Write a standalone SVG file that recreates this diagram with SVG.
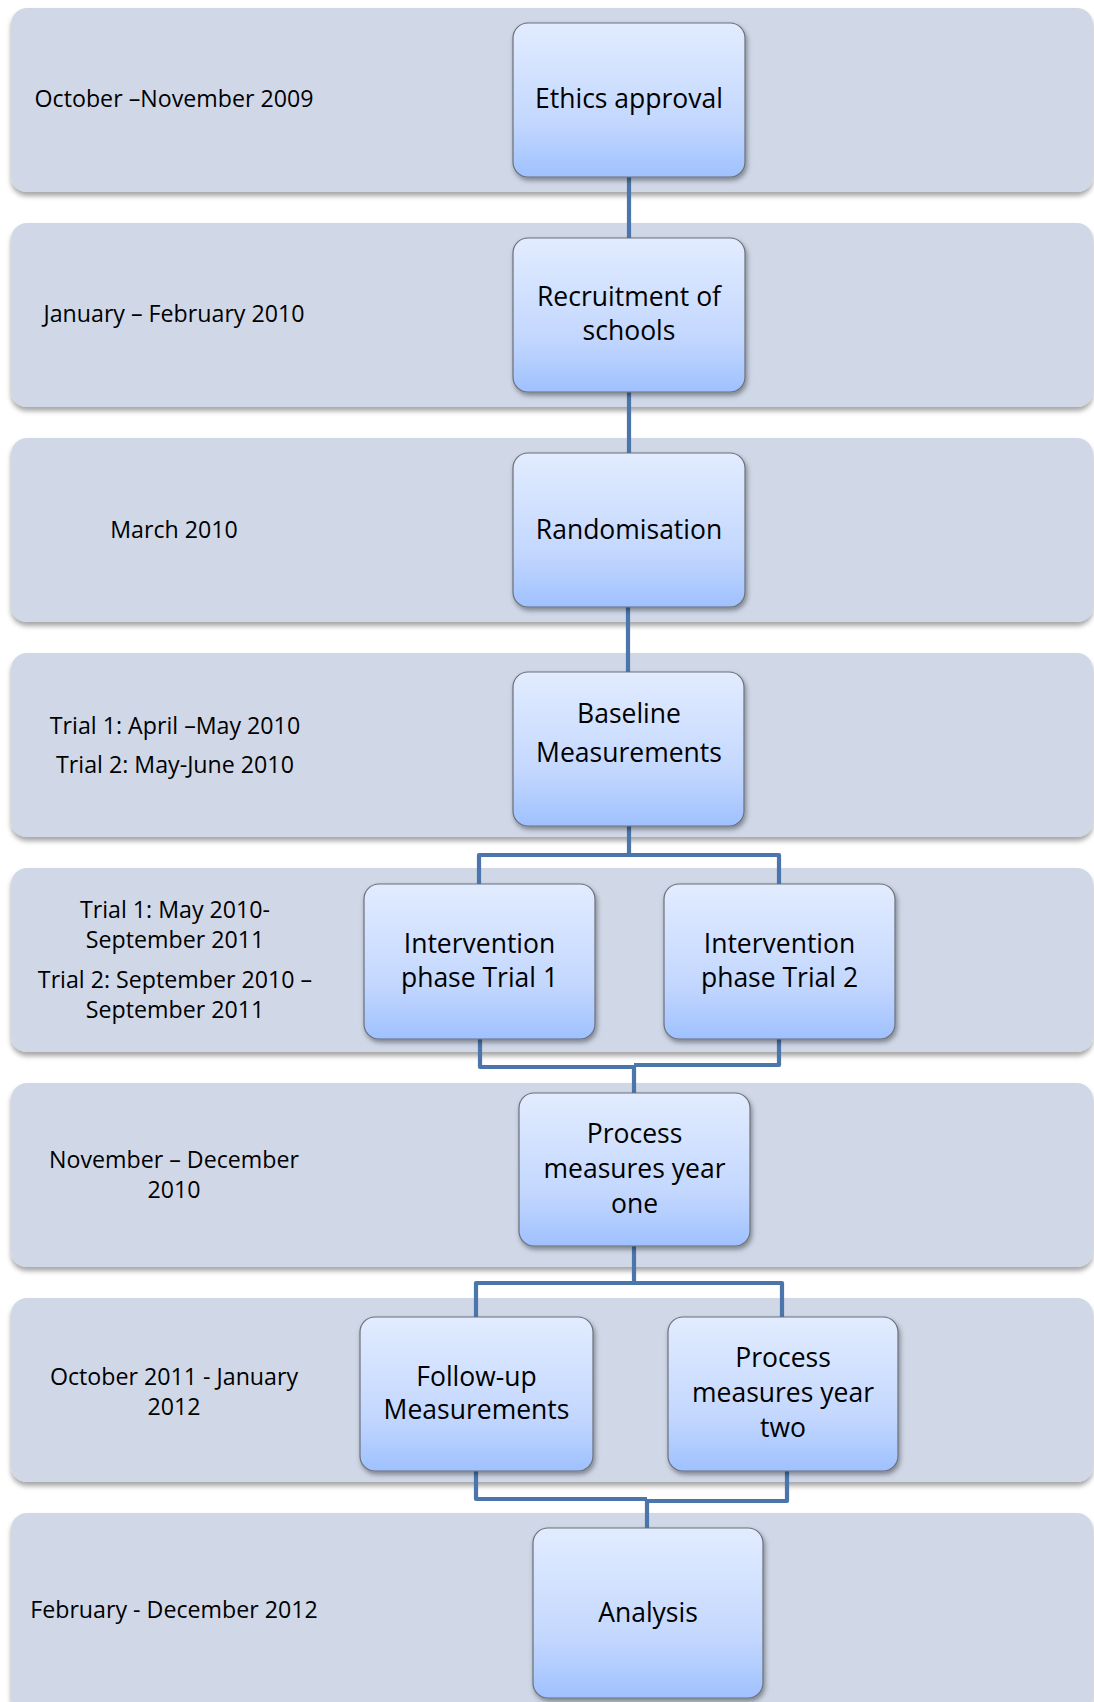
<svg xmlns="http://www.w3.org/2000/svg" width="1094" height="1702" viewBox="0 0 1094 1702">
  <defs>
    <linearGradient id="boxFill" x1="0" y1="0" x2="0" y2="1">
      <stop offset="0" stop-color="#e2ecff"/>
      <stop offset="0.65" stop-color="#c3d7fe"/>
      <stop offset="1" stop-color="#9fc1ff"/>
    </linearGradient>
    <filter id="bandShadow" x="-5%" y="-10%" width="110%" height="125%">
      <feDropShadow dx="0" dy="4" stdDeviation="2.5" flood-color="#000" flood-opacity="0.35"/>
    </filter>
    <filter id="boxShadow" x="-10%" y="-10%" width="125%" height="125%">
      <feDropShadow dx="1.5" dy="3" stdDeviation="2.5" flood-color="#000" flood-opacity="0.4"/>
    </filter>
  </defs>
  <style>
    .band { fill: #d0d8e8; filter: url(#bandShadow); }
    .box { fill: url(#boxFill); stroke: #6b6f78; stroke-width: 1.2; filter: url(#boxShadow); }
    .wire { fill: none; stroke: #4a76ab; stroke-width: 4.2; stroke-linejoin: round; stroke-linecap: butt; }
    text { font-family: "Open Sans", "Liberation Sans", sans-serif; fill: #000; text-anchor: middle; }
    .date { font-size: 23.2px; }
    .label { font-size: 26.5px; }
  </style>

  <!-- timeline bands -->
  <g id="bands">
    <rect class="band" x="11" y="8" width="1082" height="184" rx="16"/>
    <rect class="band" x="11" y="223" width="1082" height="184" rx="16"/>
    <rect class="band" x="11" y="438" width="1082" height="184" rx="16"/>
    <rect class="band" x="11" y="653" width="1082" height="184" rx="16"/>
    <rect class="band" x="11" y="868" width="1082" height="184" rx="16"/>
    <rect class="band" x="11" y="1083" width="1082" height="184" rx="16"/>
    <rect class="band" x="11" y="1298" width="1082" height="184" rx="16"/>
    <rect class="band" x="11" y="1513" width="1082" height="200" rx="16"/>
  </g>

  <!-- period labels -->
  <g id="dates" class="date">
    <text x="174" y="107">October –November 2009</text>
    <text x="174" y="322">January – February 2010</text>
    <text x="174" y="538">March 2010</text>
    <text x="175" y="734">Trial 1: April –May 2010</text>
    <text x="175" y="773">Trial 2: May-June 2010</text>
    <text x="175" y="918">Trial 1: May 2010-</text>
    <text x="175" y="948">September 2011</text>
    <text x="175" y="988">Trial 2: September 2010 –</text>
    <text x="175" y="1018">September 2011</text>
    <text x="174" y="1168">November – December</text>
    <text x="174" y="1198">2010</text>
    <text x="174" y="1385">October 2011 - January</text>
    <text x="174" y="1415">2012</text>
    <text x="174" y="1618">February - December 2012</text>
  </g>

  <!-- connectors -->
  <g id="connectors">
    <path class="wire" d="M629 177 V238"/>
    <path class="wire" d="M629 392 V453"/>
    <path class="wire" d="M628 607 V672"/>
    <path class="wire" d="M629 826 V855 M479 884 V855 H779 V884"/>
    <path class="wire" d="M480 1039 V1067 H634 M779 1039 V1065 H634 M634 1065 V1093"/>
    <path class="wire" d="M634 1246 V1283 M476 1317 V1283 H782 V1317"/>
    <path class="wire" d="M476 1471 V1499 H647 M787 1471 V1501 H647 M647 1500 V1528"/>
  </g>

  <!-- process steps -->
  <g id="ethics">
    <rect class="box" x="513" y="23" width="232" height="154" rx="15"/>
    <text class="label" x="629" y="108">Ethics approval</text>
  </g>
  <g id="recruitment">
    <rect class="box" x="513" y="238" width="232" height="154" rx="15"/>
    <text class="label" x="629" y="306">Recruitment of</text>
    <text class="label" x="629" y="340">schools</text>
  </g>
  <g id="randomisation">
    <rect class="box" x="513" y="453" width="232" height="154" rx="15"/>
    <text class="label" x="629" y="539">Randomisation</text>
  </g>
  <g id="baseline">
    <rect class="box" x="513" y="672" width="231" height="154" rx="15"/>
    <text class="label" x="629" y="723">Baseline</text>
    <text class="label" x="629" y="762">Measurements</text>
  </g>
  <g id="intervention-1">
    <rect class="box" x="364" y="884" width="231" height="155" rx="15"/>
    <text class="label" x="479.5" y="953">Intervention</text>
    <text class="label" x="479.5" y="987">phase Trial 1</text>
  </g>
  <g id="intervention-2">
    <rect class="box" x="664" y="884" width="231" height="155" rx="15"/>
    <text class="label" x="779.5" y="953">Intervention</text>
    <text class="label" x="779.5" y="987">phase Trial 2</text>
  </g>
  <g id="process-year-one">
    <rect class="box" x="519" y="1093" width="231" height="153" rx="15"/>
    <text class="label" x="634.5" y="1143">Process</text>
    <text class="label" x="634.5" y="1178">measures year</text>
    <text class="label" x="634.5" y="1213">one</text>
  </g>
  <g id="follow-up">
    <rect class="box" x="360" y="1317" width="233" height="154" rx="15"/>
    <text class="label" x="476.5" y="1386">Follow-up</text>
    <text class="label" x="476.5" y="1419">Measurements</text>
  </g>
  <g id="process-year-two">
    <rect class="box" x="668" y="1317" width="230" height="154" rx="15"/>
    <text class="label" x="783" y="1367">Process</text>
    <text class="label" x="783" y="1402">measures year</text>
    <text class="label" x="783" y="1437">two</text>
  </g>
  <g id="analysis">
    <rect class="box" x="533" y="1528" width="230" height="170" rx="15"/>
    <text class="label" x="648" y="1622">Analysis</text>
  </g>
</svg>
